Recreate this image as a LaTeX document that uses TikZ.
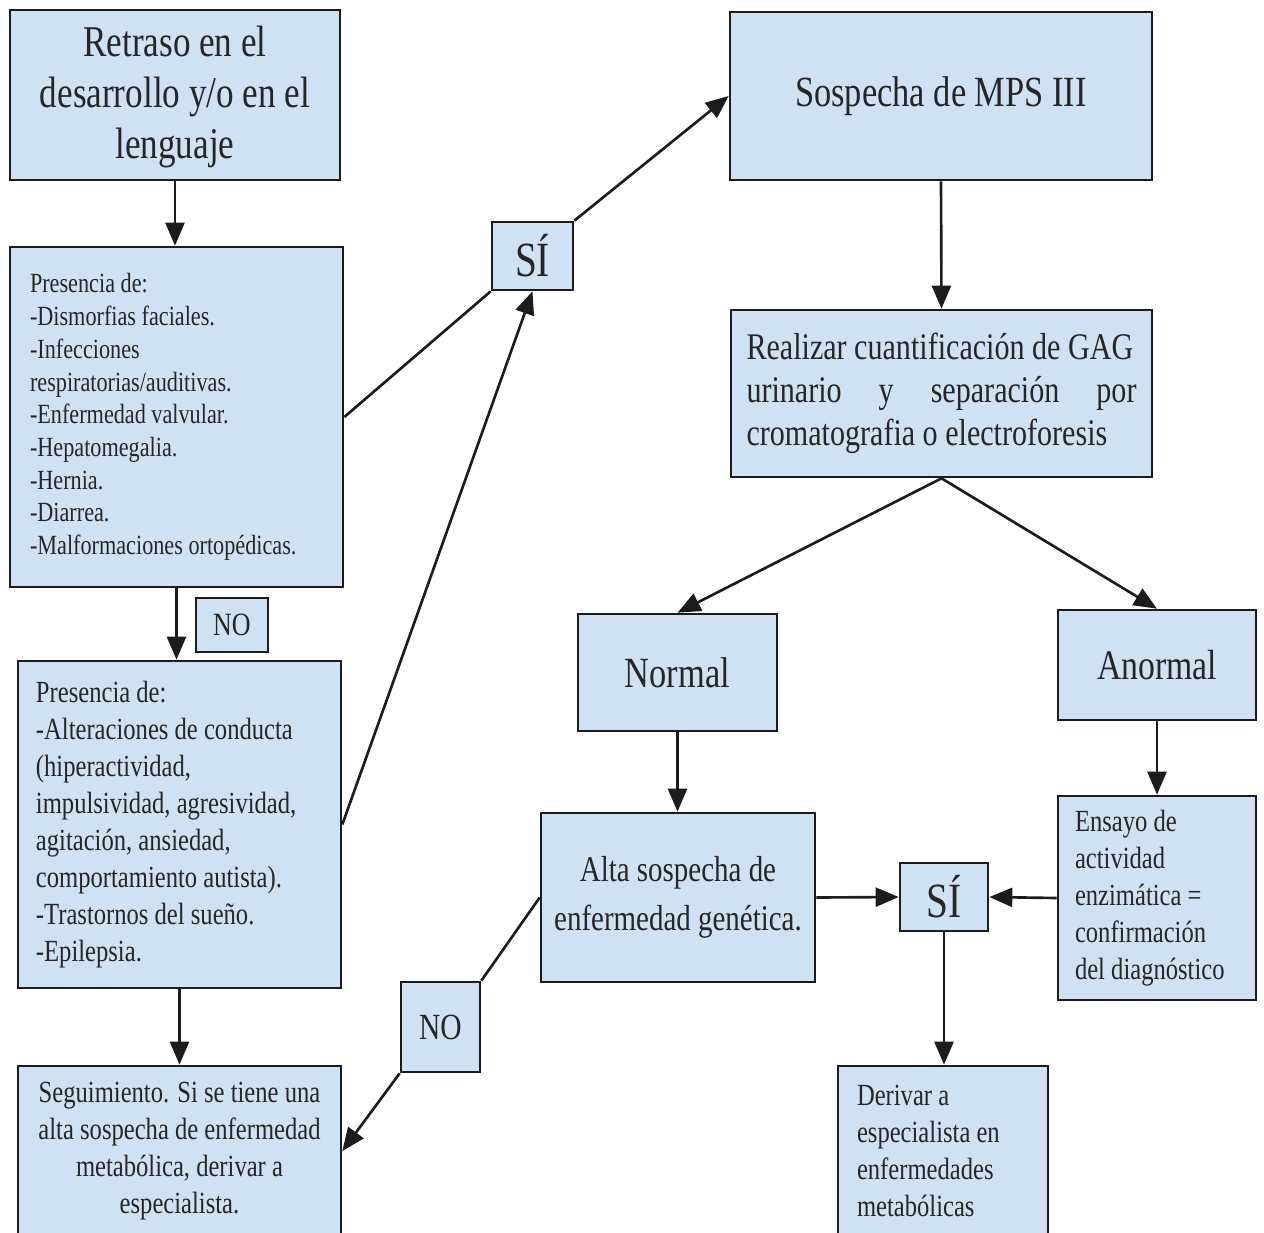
\documentclass[tikz,border=0pt]{standalone}
\usepackage{fontspec}
\setmainfont{Liberation Serif}[FakeStretch=0.8]
\usepackage{xcolor}
\usetikzlibrary{arrows.meta, positioning}
\definecolor{boxblue}{HTML}{CFE2F3}
\definecolor{edgegray}{HTML}{1C1C1C}
\definecolor{inkgray}{HTML}{262626}

\begin{document}
\begin{tikzpicture}[
    box/.style={rectangle, draw=edgegray, fill=boxblue, line width=1.5pt, inner sep=0pt, align=center, text=inkgray},
    listbox/.style={box, align=flush left},
    bigtext/.style={font=\fontsize{25}{29}\selectfont},
    smalltext/.style={font=\fontsize{17.5}{21}\selectfont},
    tagtext/.style={font=\fontsize{28}{32}\selectfont},
    arrow/.style={-{Triangle[length=0.46cm, width=0.38cm]}, line width=1.5pt, draw=edgegray},
    link/.style={line width=1.5pt, draw=edgegray}
]
\useasboundingbox (0,0) rectangle (25.28,-24.64);

% Left column
\node[box, bigtext, minimum width=6.6cm, minimum height=3.4cm, text depth=0.1cm] (retraso) at (3.5,-1.9) {Retraso en el\\desarrollo y/o en el\\lenguaje};
\node[listbox, minimum width=6.66cm, minimum height=6.8cm, text width=5.86cm, font=\fontsize{15.8}{18.6}\selectfont] (pres1) at (3.53,-8.34) {Presencia de:\\-Dismorfias faciales.\\-Infecciones\\respiratorias/auditivas.\\-Enfermedad valvular.\\-Hepatomegalia.\\-Hernia.\\-Diarrea.\\-Malformaciones ortopédicas.};
\node[box, minimum width=1.44cm, minimum height=1.08cm, font=\fontsize{18.5}{21}\selectfont] (no1) at (4.64,-12.5) {NO};
\node[listbox, smalltext, minimum width=6.46cm, minimum height=6.54cm, text width=5.74cm] (pres2) at (3.59,-16.49) {Presencia de:\\-Alteraciones de conducta\\(hiperactividad,\\impulsividad, agresividad,\\agitación, ansiedad,\\comportamiento autista).\\-Trastornos del sueño.\\-Epilepsia.};
\node[box, smalltext, minimum width=6.46cm, minimum height=3.4cm] (seg) at (3.59,-23.02) {Seguimiento. Si se tiene una\\alta sospecha de enfermedad\\metabólica, derivar a\\especialista.};

% Middle tags
\node[box, tagtext, minimum width=1.62cm, minimum height=1.36cm] (si1) at (10.65,-5.12) {SÍ};
\node[box, minimum width=1.58cm, minimum height=1.8cm, font=\fontsize{21}{24}\selectfont] (no2) at (8.81,-20.54) {NO};

% Right side
\node[box, font=\fontsize{24.5}{28.5}\selectfont, minimum width=8.44cm, minimum height=3.36cm] (sospecha) at (18.82,-1.92) {Sospecha de MPS III};
\node[listbox, minimum width=8.42cm, minimum height=3.34cm, text width=7.8cm, font=\fontsize{21.4}{24.5}\selectfont] (realizar) at (18.83,-7.87) {Realizar cuantificación de GAG\\urinario\hfill y\hfill separación\hfill por\\cromatografia o electroforesis};
\node[box, font=\fontsize{24.5}{28.5}\selectfont, minimum width=3.98cm, minimum height=2.34cm] (normal) at (13.55,-13.45) {Normal};
\node[box, font=\fontsize{24}{28.5}\selectfont, minimum width=3.96cm, minimum height=2.2cm] (anormal) at (23.14,-13.3) {Anormal};
\node[box, font=\fontsize{20.6}{28}\selectfont, minimum width=5.48cm, minimum height=3.38cm] (alta) at (13.56,-17.95) {Alta sospecha de\\enfermedad genética.};
\node[box, tagtext, minimum width=1.76cm, minimum height=1.36cm] (si2) at (18.88,-17.94) {SÍ};
\node[listbox, smalltext, minimum width=3.96cm, minimum height=4.08cm, text width=3.28cm] (ensayo) at (23.14,-17.96) {Ensayo de\\actividad\\enzimática =\\confirmación\\del diagnóstico};
\node[listbox, smalltext, minimum width=4.2cm, minimum height=3.4cm, text width=3.44cm] (derivar) at (18.86,-23.02) {Derivar a\\especialista en\\enfermedades\\metabólicas};

% Connections left
\draw[arrow] (retraso.south) -- (retraso.south |- pres1.north);
\draw[arrow] (pres1.south) -- (pres1.south |- pres2.north);
\draw[arrow] (pres2.south) -- (pres2.south |- seg.north);
\draw[link] (pres1.east) -- (si1.south west);
\draw[arrow] (pres2.east) -- (si1.south);
\draw[arrow] (si1.north east) -- (sospecha.west);
\draw[link] (alta.west) -- (no2.north east);
\draw[arrow] (no2.south west) -- (seg.east);

% Connections right
\draw[arrow] (sospecha.south) -- (realizar.north);
\draw[arrow] (realizar.south) -- (normal.north);
\draw[arrow] (realizar.south) -- (anormal.north);
\draw[arrow] (normal.south) -- (normal.south |- alta.north);
\draw[arrow] (anormal.south) -- (ensayo.north);
\draw[arrow] (alta.east) -- (si2.west);
\draw[arrow] (ensayo.west) -- (si2.east);
\draw[arrow] (si2.south) -- (si2.south |- derivar.north);

\end{tikzpicture}
\end{document}
